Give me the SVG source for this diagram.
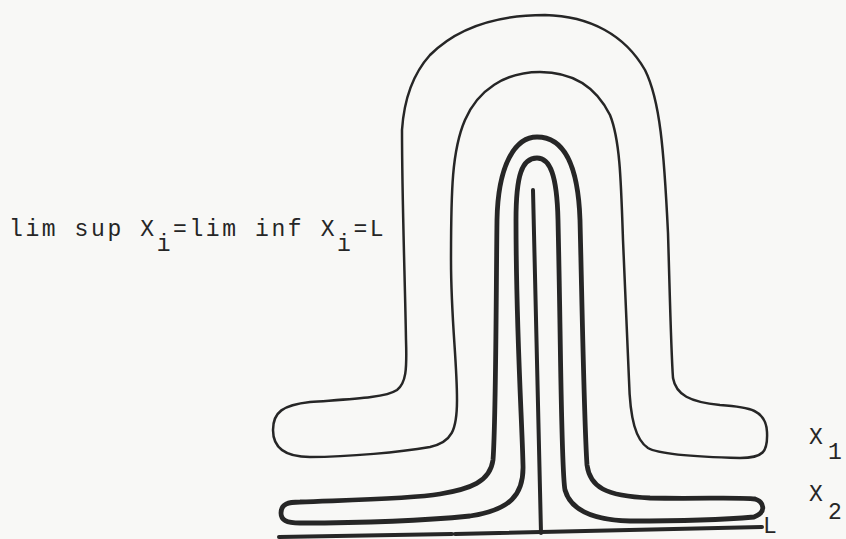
<svg xmlns="http://www.w3.org/2000/svg" width="846" height="539" viewBox="0 0 846 539">
<style>
.ln{fill:none;stroke:#262626;stroke-linejoin:round;stroke-linecap:round}
.thin{stroke-width:2.5}
.thick{stroke-width:4.8}
.axis{stroke-width:4}
.tx{font-family:"Liberation Mono","DejaVu Sans Mono",monospace;font-size:23px;fill:#262626}
</style>
<rect width="846" height="539" fill="#f8f8f6"/>
<g id="X1">
<path class="ln thin" d="M 273 430 C 273 412, 283 405, 310 402 C 350 399, 385 398, 397 390 C 406 383, 407 370, 406 340 C 405 280, 402 200, 402 130 C 404 100, 412 75, 430 55 C 460 25, 500 15, 545 15 C 590 16, 625 35, 645 70 C 660 100, 664 150, 668 233 C 670 300, 671 350, 673 378 C 676 395, 690 402, 720 405 C 750 407, 766 410, 767 432 C 768 452, 763 458, 740 458 C 700 457, 660 455, 648 448 C 636 440, 630 420, 629 380 C 627 330, 625 280, 623 240 C 621 180, 620 140, 610 115 C 595 85, 570 72, 540 72 C 505 72, 478 90, 465 120 C 452 150, 451 190, 451 260 C 451 320, 457 360, 457 400 C 457 430, 452 442, 430 447 C 400 452, 350 457, 310 457 C 285 457, 273 448, 273 430 Z"/>
</g>
<g id="X2">
<path class="ln thick" d="M 281 513 C 281 504, 288 502, 300 502 C 350 500, 410 499, 440 494 C 470 489, 490 482, 493 460 C 496 420, 496 300, 497 220 C 498 165, 515 137, 537 137 C 562 137, 578 160, 580 220 C 582 300, 584 420, 587 465 C 590 487, 605 496, 650 498 C 700 499, 740 497, 755 499 C 764 502, 767 512, 754 517 C 720 520, 660 521, 630 521 C 590 520, 570 508, 565 490 C 561 470, 561 350, 558 220 C 557 175, 550 158, 537 158 C 522 158, 516 175, 516 220 C 516 330, 522 420, 523 465 C 524 495, 510 510, 470 516 C 420 521, 350 523, 300 523 C 286 523, 281 520, 281 513 Z"/>
</g>
<g id="L">
<path class="ln axis" d="M 533 190 L 541 533"/>
<path class="ln axis" d="M 279 537 L 452 534 M 455 534 L 762 527"/>
</g>
<g id="labels">
<text class="tx" x="9" y="236" letter-spacing="2.6">lim sup X<tspan dy="15">i</tspan><tspan dy="-15">=lim inf X</tspan><tspan dy="15">i</tspan><tspan dy="-15">=L</tspan></text>
<text class="tx" x="809" y="444">X</text>
<text class="tx" x="828" y="459">1</text>
<text class="tx" x="809" y="501">X</text>
<text class="tx" x="828" y="519">2</text>
<text class="tx" x="763" y="533">L</text>
</g>
</svg>
